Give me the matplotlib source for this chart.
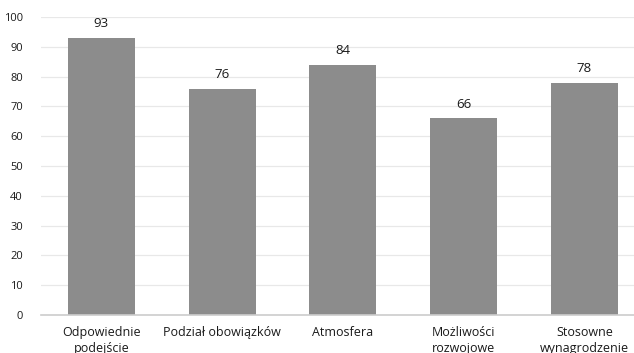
import matplotlib.pyplot as plt

categories = ["Odpowiednie\npodejście", "Podział obowiązków", "Atmosfera",
              "Możliwości\nrozwojowe", "Stosowne\nwynagrodzenie"]
values = [93, 76, 84, 66, 78]
yticks = [0, 10, 20, 30, 40, 50, 60, 70, 80, 90, 100]

plt.rcParams['font.family'] = ['Open Sans', 'DejaVu Sans']

fig = plt.figure(figsize=(6.34, 3.53), dpi=100)
ax = fig.add_axes([41 / 634, 1 - 315 / 353, 1 - 41 / 634, 298 / 353])

x = range(len(values))
bars = ax.bar(x, values, width=0.555, color="#8c8c8c", zorder=2)
for b, v in zip(bars, values):
    ax.text(b.get_x() + b.get_width() / 2, v + 2.6, str(v), ha="center",
            va="bottom", fontsize=9.5, color="#1a1a1a")

ax.set_xlim(-0.5, 4.41)
ax.set_ylim(0, 100)
ax.set_yticks(yticks)
ax.set_xticks(list(x))
ax.set_xticklabels(categories, fontsize=9, color="#1a1a1a", linespacing=1.25)
ax.tick_params(axis="y", labelsize=8, labelcolor="#1a1a1a", length=0, pad=13)
ax.tick_params(axis="x", length=0, pad=8)
ax.grid(axis="y", color="#e8e8e8", linewidth=0.9, zorder=0)
for s in ["top", "right", "left"]:
    ax.spines[s].set_visible(False)
ax.spines["bottom"].set_color("#cccccc")
ax.spines["bottom"].set_linewidth(1.2)

fig.savefig("out.png", dpi=100)
